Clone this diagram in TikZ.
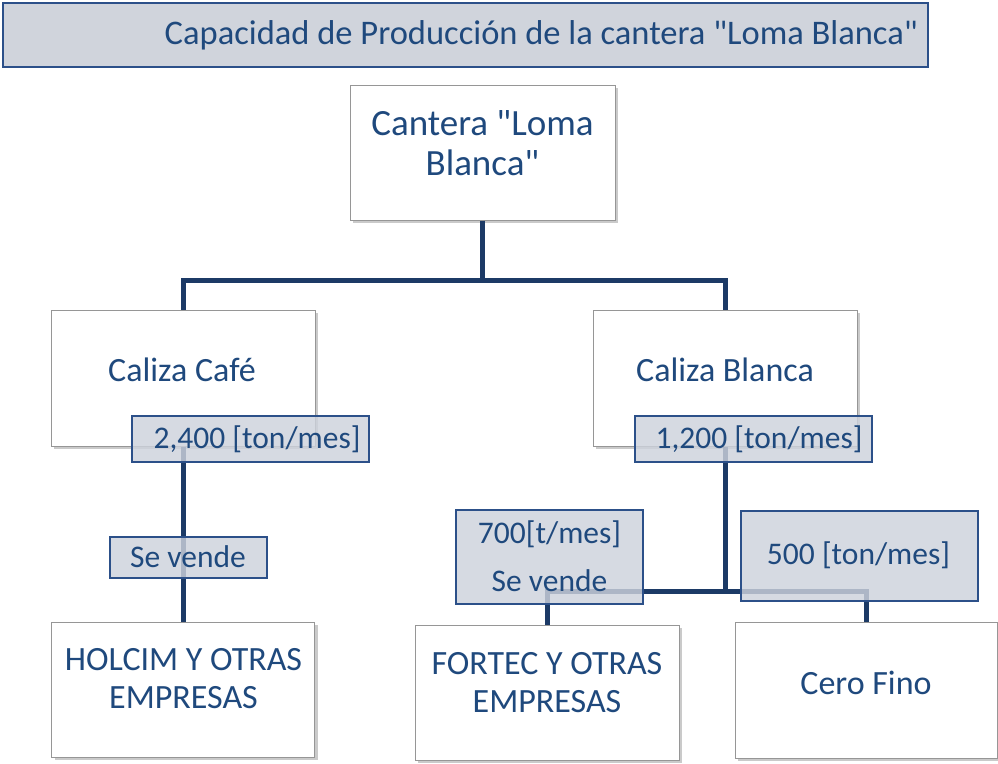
\documentclass[tikz,border=0pt]{standalone}
\usepackage{fontspec}
\setmainfont{Carlito}[Ligatures=TeXOff]
\usetikzlibrary{shadows}
\definecolor{txt}{RGB}{31,73,125}
\definecolor{ln}{RGB}{28,58,102}
\definecolor{lblfill}{RGB}{205,210,220}
\definecolor{lbldraw}{RGB}{44,80,137}
\definecolor{boxdraw}{RGB}{150,150,150}
\definecolor{titlefill}{RGB}{208,212,220}
\begin{document}
\begin{tikzpicture}[x=1pt,y=-1pt,
 mainbox/.style={draw=boxdraw, line width=1pt, fill=white, drop shadow={shadow xshift=3pt,shadow yshift=-3pt,opacity=0.35,fill=black!60}, inner sep=0pt},
 lbl/.style={draw=lbldraw, line width=1.3pt, fill=lblfill, fill opacity=0.82, inner sep=0pt},
 maintxt/.style={text=txt, font=\fontsize{34}{38}\selectfont, align=center, inner sep=0pt},
 lbltxt/.style={text=txt, font=\fontsize{31.5}{48}\selectfont, align=center, inner sep=0pt},
 conn/.style={draw=ln, line width=5pt, line join=miter}
]
\useasboundingbox (0,0) rectangle (998,763);
% title
\node[draw=lbldraw, line width=1.6pt, fill=titlefill, minimum width=925pt, minimum height=64pt, inner sep=0pt] (title) at (465.5,35) {};
\node[anchor=east, text=txt, font=\fontsize{34.5}{38}\selectfont, inner sep=0pt] (titletxt) at (918,35) {Capacidad de Producción de la cantera "Loma Blanca"};
% main boxes
\node[mainbox, minimum width=265pt, minimum height=135pt] (root) at (482.5,152.5) {};
\node[mainbox, minimum width=264pt, minimum height=136pt] (cafe) at (183,378) {};
\node[mainbox, minimum width=264pt, minimum height=136pt] (blanca) at (725,378) {};
\node[mainbox, minimum width=263pt, minimum height=135pt] (holcim) at (183,689.5) {};
\node[mainbox, minimum width=264pt, minimum height=135pt] (fortec) at (547,692.5) {};
\node[mainbox, minimum width=262pt, minimum height=136pt] (cero) at (866,690) {};
% connectors
\draw[conn] (root.south) -- ++(0,60) coordinate (j1);
\draw[conn] (cafe.north) |- (j1) -| (blanca.north);
\draw[conn] (cafe.south) -- (holcim.north);
\draw[conn] (blanca.south) -- ++(0,145) coordinate (j2);
\draw[conn] (fortec.north) |- (j2) -| (cero.north);
% label boxes
\node[lbl, minimum width=237pt, minimum height=46pt] (l2400) at (250.5,439) {};
\node[lbl, minimum width=237pt, minimum height=46pt] (l1200) at (753.5,439) {};
\node[lbl, minimum width=157pt, minimum height=41pt] (lsev) at (188.5,557.5) {};
\node[lbl, minimum width=187pt, minimum height=94pt] (l700) at (549.5,557) {};
\node[lbl, minimum width=237pt, minimum height=90pt] (l500) at (859.5,556) {};
% texts
\node[maintxt, font=\fontsize{37}{40}\selectfont] (roottxt) at (482.5,143) {Cantera "Loma\\Blanca"};
\node[maintxt] (cafetxt) at (182,370) {Caliza Café};
\node[maintxt] (blancatxt) at (725,370) {Caliza Blanca};
\node[maintxt] (holcimtxt) at (183.5,679) {HOLCIM Y OTRAS\\EMPRESAS};
\node[maintxt] (fortectxt) at (547,683) {FORTEC Y OTRAS\\EMPRESAS};
\node[maintxt] (cerotxt) at (866,683) {Cero Fino};
\node[lbltxt] (l2400txt) at (257,439) {2,400 [ton/mes]};
\node[lbltxt] (l1200txt) at (759,439) {1,200 [ton/mes]};
\node[lbltxt] (lsevtxt) at (188,557) {Se vende};
\node[lbltxt] (l700txt) at (549.5,556) {700[t/mes]\\Se vende};
\node[lbltxt] (l500txt) at (858.5,555) {500 [ton/mes]};
\end{tikzpicture}
\end{document}
